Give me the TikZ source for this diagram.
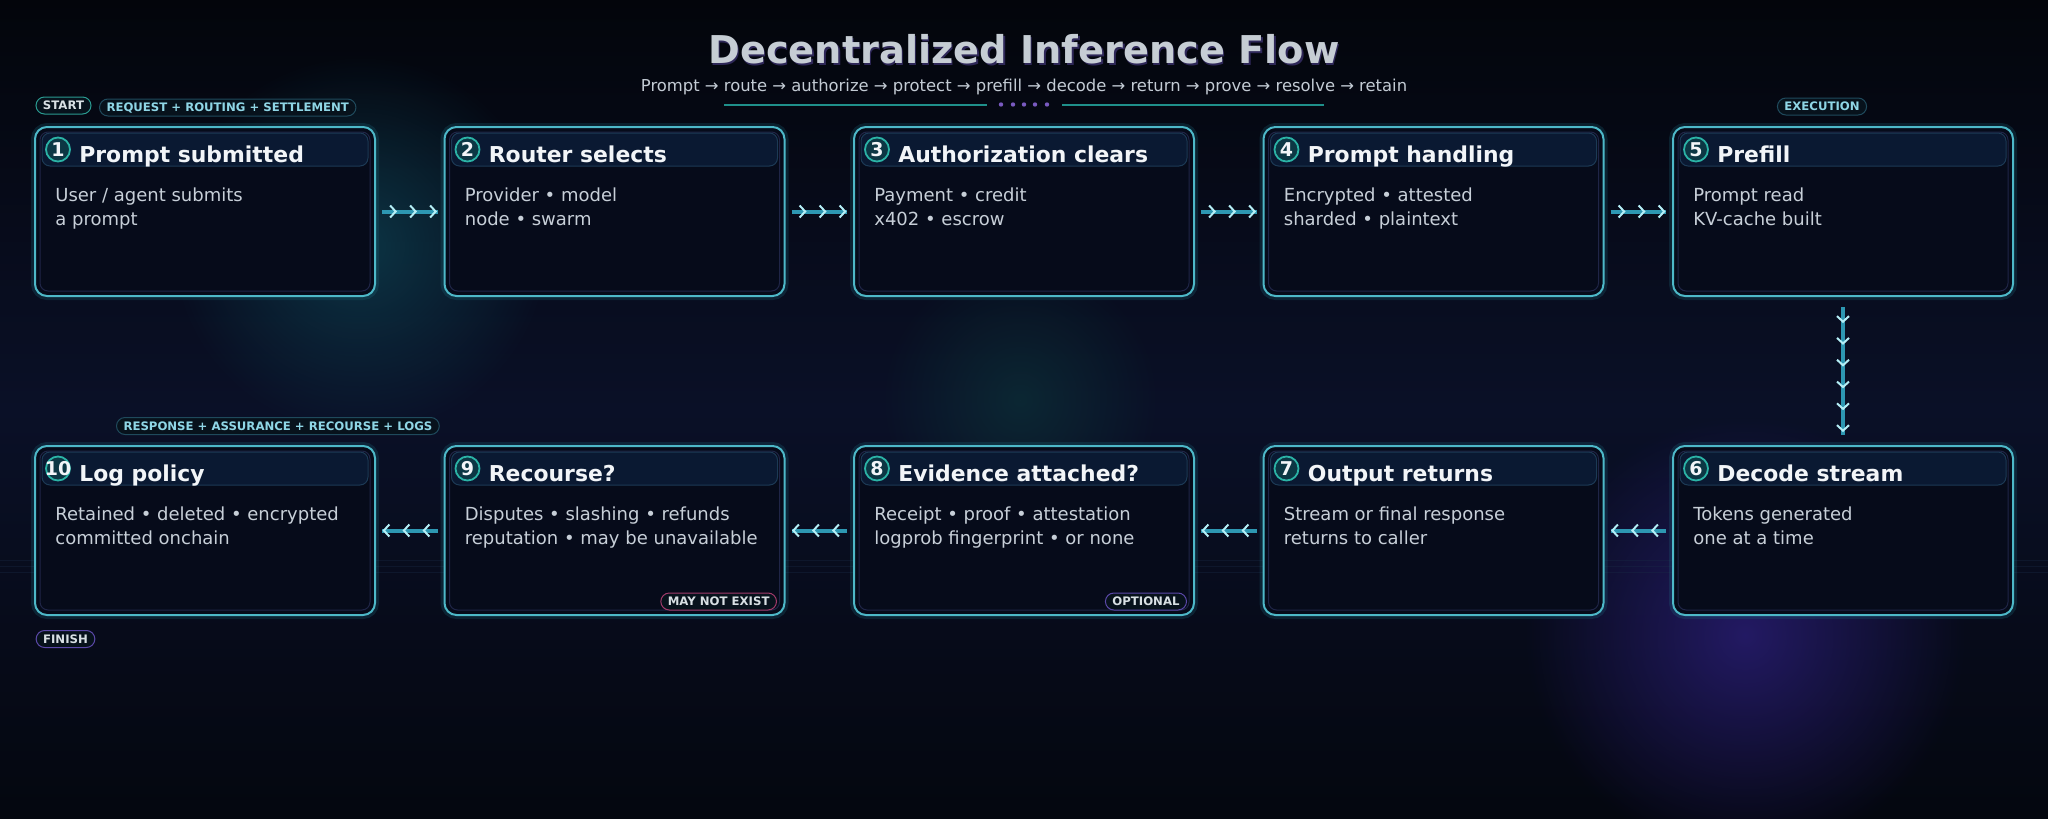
\documentclass[tikz,border=0pt]{standalone}
\usepackage{fontspec}
\setmainfont{DejaVu Sans}
\usetikzlibrary{arrows.meta,decorations.markings,fadings}

\definecolor{bgtop}{HTML}{03050B}
\definecolor{bgmid}{HTML}{0A1027}
\definecolor{bgbot}{HTML}{04070F}
\definecolor{glowteal}{HTML}{0F4A5A}
\definecolor{glowgreen}{HTML}{0E3E40}
\definecolor{glowviolet}{HTML}{3A26A0}
\definecolor{gridcol}{HTML}{1A2C48}
\definecolor{cardfill}{HTML}{060B1A}
\definecolor{cardline}{HTML}{4DB8C8}
\definecolor{cardglow}{HTML}{1C6A7C}
\definecolor{cardinner}{HTML}{1F2547}
\definecolor{headfill}{HTML}{0A1932}
\definecolor{headline}{HTML}{1C3A55}
\definecolor{dotfill}{HTML}{0C3744}
\definecolor{dotline}{HTML}{2BB3A6}
\definecolor{titlecol}{HTML}{F2F5F8}
\definecolor{bodycol}{HTML}{C7CFD8}
\definecolor{flowcol}{HTML}{2D97B2}
\definecolor{chevcol}{HTML}{B4EEF6}
\definecolor{headcol}{HTML}{C6CDD4}
\definecolor{headshadow}{HTML}{2E2758}
\definecolor{subcol}{HTML}{C3CBD4}
\definecolor{rulecol}{HTML}{1F8F8A}
\definecolor{dotcol}{HTML}{7A5AC0}
\definecolor{pillfill}{HTML}{07121C}
\definecolor{pillteal}{HTML}{2A9A90}
\definecolor{pillblue}{HTML}{1F4A5C}
\definecolor{pillviolet}{HTML}{5A48A8}
\definecolor{pillpink}{HTML}{A03A6A}
\definecolor{pilltext}{HTML}{D8E0E4}
\definecolor{pillcyan}{HTML}{8FD6E6}

\tikzfading[name=glowfade, inner color=transparent!0, outer color=transparent!100]

\tikzset{every picture/.style={line width=0.75pt}}
\tikzset{
  card/.style={draw=cardline, line width=2pt, fill=cardfill, rounded corners=12pt,
    minimum width=340pt, minimum height=169pt, inner sep=0pt, outer sep=7pt,
    preaction={draw=cardglow, line width=8pt, draw opacity=0.25}},
  cardrim/.style={draw=cardinner, line width=1pt, rounded corners=8pt},
  headstrip/.style={draw=headline, line width=1pt, fill=headfill, rounded corners=8pt},
  numdot/.style={circle, draw=dotline, line width=1.8pt, fill=dotfill, minimum size=24pt,
    inner sep=0pt, text=titlecol, font=\fontsize{19}{21}\bfseries\selectfont},
  cardtitle/.style={anchor=base west, inner sep=0pt, text=titlecol,
    font=\fontsize{21.9}{26}\bfseries\selectfont},
  cardtext/.style={anchor=base west, inner sep=0pt, text=bodycol,
    font=\fontsize{18}{22}\selectfont},
  pill/.style={draw=#1, fill=pillfill, line width=1pt, rounded corners=8.5pt,
    minimum height=17pt, inner xsep=7pt, inner ysep=0pt, text height=8.5pt, text depth=0pt,
    text=pilltext, font=\fontsize{11.7}{13}\bfseries\selectfont},
  flow/.style={draw=flowcol, line width=4pt, postaction={decorate},
    decoration={markings, mark=between positions 15pt and 56pt step 20pt with
      {\arrow[chevcol]{Straight Barb[length=5.5pt,width=12pt,line width=2pt]}}}},
  flowdown/.style={draw=flowcol, line width=4pt, shorten <=4pt, shorten >=4pt, postaction={decorate},
    decoration={markings, mark=between positions 20pt and 136pt step 21.8pt with
      {\arrow[chevcol]{Straight Barb[length=5.5pt,width=12pt,line width=2pt]}}}},
}

% card: name, left, top, number, title, line 1, line 2
\newcommand{\flowcard}[7]{%
  \node[card] (#1) at (#2+170,#3+84.5) {};
  \draw[cardrim] (#2+5,#3+5) rectangle (#2+335,#3+164);
  \draw[headstrip] (#2+7,#3+6) rectangle (#2+333,#3+39);
  \node[numdot] (#1-n) at (#2+23,#3+22.5) {\makebox[0pt]{#4}};
  \node[cardtitle] (#1-t) at (#2+44,#3+35) {#5};
  \node[cardtext] (#1-a) at (#2+20,#3+74) {#6};
  \node[cardtext] (#1-b) at (#2+20,#3+98) {#7};
}

\begin{document}
\begin{tikzpicture}[x=1pt,y=1pt,yscale=-1,xscale=1]
        \useasboundingbox (0,0) rectangle (2048,819);

        % Background
        \shade[top color=bgtop, bottom color=bgbot, middle color=bgmid] (0,0) rectangle (2048,819);
        \fill[glowteal, path fading=glowfade, fill opacity=0.65] (360,245) circle (190);
        \fill[glowgreen, path fading=glowfade, fill opacity=0.5] (1020,400) circle (140);
        \fill[glowviolet, path fading=glowfade, fill opacity=0.55] (1745,635) circle (220);
        \foreach \y in {560,566,572} {
            \draw[gridcol, line width=1pt, draw opacity=0.35] (0,\y) -- (2048,\y);
        }

        % Heading
        \node[anchor=base, inner sep=0pt, text=headshadow, font=\fontsize{38.3}{42}\bfseries\selectfont] (title-s) at (1025.5,65.5) {Decentralized Inference Flow};
        \node[anchor=base, inner sep=0pt, text=headcol, font=\fontsize{38.3}{42}\bfseries\selectfont] (title) at (1024,63.5) {Decentralized Inference Flow};
        \node[anchor=base, inner sep=0pt, text=subcol, font=\fontsize{16.4}{20}\selectfont] (subtitle) at (1024,91) {Prompt → route → authorize → protect → prefill → decode → return → prove → resolve → retain};
        \coordinate (rule-a) at (724,104.5);
        \coordinate (rule-b) at (987,104.5);
        \coordinate (rule-c) at (1062,104.5);
        \coordinate (rule-d) at (1324,104.5);
        \draw[rulecol, line width=2pt] (rule-a) -- (rule-b);
        \draw[rulecol, line width=2pt] (rule-c) -- (rule-d);
        \foreach \x in {1001,1013,1024,1035,1047} {
            \fill[dotcol] (\x,104.5) circle (2.2);
        }

        % Top row
        \flowcard{c1}{35}{127}{1}{Prompt submitted}{User / agent submits}{a prompt}
        \flowcard{c2}{444.5}{127}{2}{Router selects}{Provider • model}{node • swarm}
        \flowcard{c3}{854}{127}{3}{Authorization clears}{Payment • credit}{x402 • escrow}
        \flowcard{c4}{1263.5}{127}{4}{Prompt handling}{Encrypted • attested}{sharded • plaintext}
        \flowcard{c5}{1673}{127}{5}{Prefill}{Prompt read}{KV-cache built}

        % Bottom row
        \flowcard{c10}{35}{446}{10}{Log policy}{Retained • deleted • encrypted}{committed onchain}
        \flowcard{c9}{444.5}{446}{9}{Recourse?}{Disputes • slashing • refunds}{reputation • may be unavailable}
        \flowcard{c8}{854}{446}{8}{Evidence attached?}{Receipt • proof • attestation}{logprob fingerprint • or none}
        \flowcard{c7}{1263.5}{446}{7}{Output returns}{Stream or final response}{returns to caller}
        \flowcard{c6}{1673}{446}{6}{Decode stream}{Tokens generated}{one at a time}

        % Tags
        \node[pill=pillteal] (start) at (63.5,105.5) {START};
        \node[pill=pillblue, text=pillcyan, anchor=west] (phase-a) at (99,107.5) {REQUEST + ROUTING + SETTLEMENT};
        \node[pill=pillblue, text=pillcyan] (phase-b) at (1822,106.5) {EXECUTION};
        \node[pill=pillblue, text=pillcyan, anchor=west] (phase-c) at (116,426) {RESPONSE + ASSURANCE + RECOURSE + LOGS};
        \node[pill=pillviolet] (finish) at (65.5,639) {FINISH};
        \node[pill=pillpink, anchor=east] (c9-tag) at (777,601.5) {MAY NOT EXIST};
        \node[pill=pillviolet, anchor=east] (c8-tag) at (1187,601.5) {OPTIONAL};

        % Connectors
        \draw[flow] (c1) -- (c2);
        \draw[flow] (c2) -- (c3);
        \draw[flow] (c3) -- (c4);
        \draw[flow] (c4) -- (c5);
        \draw[flowdown] (c5) -- (c6);
        \draw[flow] (c6) -- (c7);
        \draw[flow] (c7) -- (c8);
        \draw[flow] (c8) -- (c9);
        \draw[flow] (c9) -- (c10);

\end{tikzpicture}
\end{document}
